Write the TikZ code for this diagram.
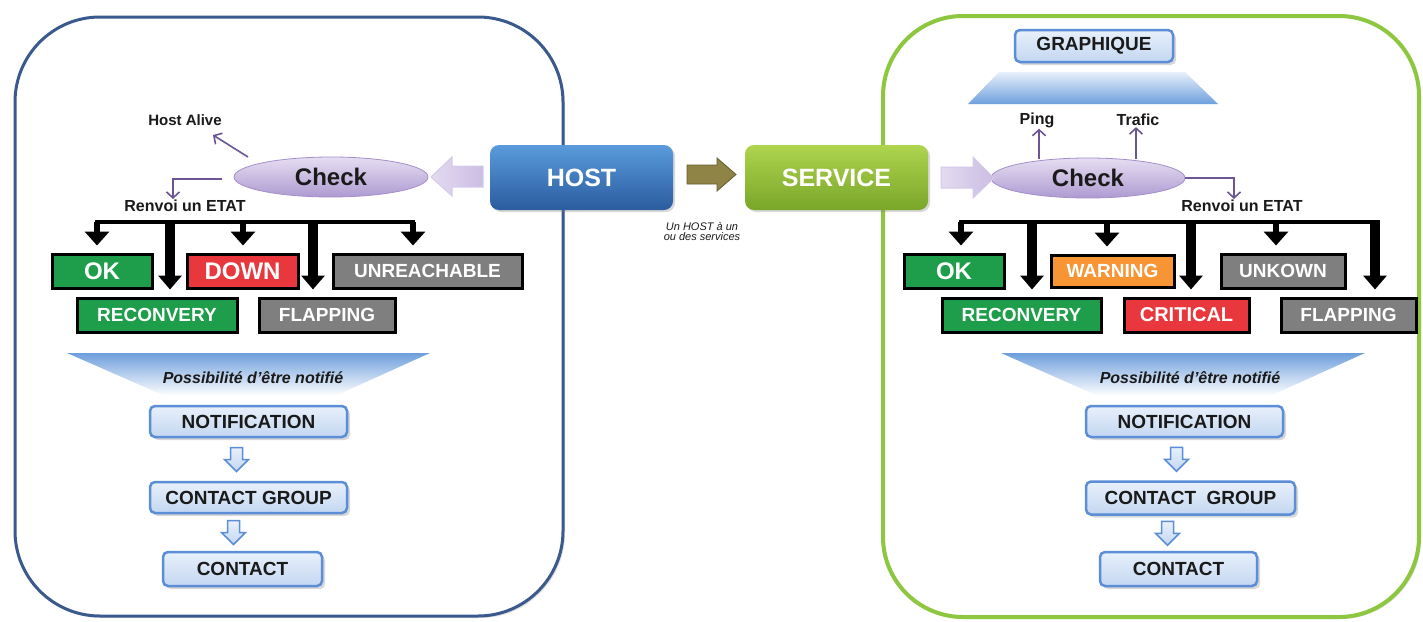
\documentclass[tikz,border=0pt]{standalone}
\usepackage{fontspec}
\setmainfont{Liberation Sans}
\usetikzlibrary{arrows.meta,shapes.geometric,shadows,calc}
\newcommand\myfs[1]{\fontsize{#1}{#1}\selectfont}
\definecolor{pblue}{HTML}{3A5A8E}
\definecolor{pgreen}{HTML}{8DC63F}
\definecolor{hostTop}{HTML}{5A9BDC}
\definecolor{hostBot}{HTML}{2A5C9F}
\definecolor{servTop}{HTML}{AFD44E}
\definecolor{servBot}{HTML}{79A629}
\definecolor{chkTop}{HTML}{E6DEF2}
\definecolor{chkBot}{HTML}{AE9AD1}
\definecolor{chkEdge}{HTML}{A48FCB}
\definecolor{okG}{HTML}{1E9E4A}
\definecolor{downR}{HTML}{E8383D}
\definecolor{grayS}{HTML}{7F7F7F}
\definecolor{warnO}{HTML}{F79433}
\definecolor{lbEdge}{HTML}{5B8ED6}
\definecolor{lbTop}{HTML}{E8F0FB}
\definecolor{lbBot}{HTML}{C3D7F1}
\definecolor{txt}{HTML}{1A1A1A}
\definecolor{purpc}{HTML}{6B5595}
\definecolor{oliveA}{HTML}{8F8445}
\definecolor{lavL}{HTML}{E3DBF0}
\definecolor{lavD}{HTML}{CBBDE3}
\definecolor{funnelB}{HTML}{6E9FDC}
\tikzset{
 panelL/.style={draw=pblue, line width=3, fill=white, rounded corners=85,
   drop shadow={shadow xshift=2pt, shadow yshift=-2pt, opacity=0.25}},
 panelR/.style={draw=pgreen, line width=4, fill=white, rounded corners=80,
   drop shadow={shadow xshift=2pt, shadow yshift=-2pt, opacity=0.25}},
 bigbox/.style={rounded corners=9, minimum width=183, minimum height=65, inner sep=0,
   text=white, font=\myfs{25}\bfseries,
   drop shadow={shadow xshift=2pt, shadow yshift=-2pt, opacity=0.3}},
 hostbox/.style={bigbox, top color=hostTop, bottom color=hostBot},
 servbox/.style={bigbox, top color=servTop, bottom color=servBot},
 chk/.style={ellipse, minimum width=194, minimum height=40, inner sep=0,
   top color=chkTop, bottom color=chkBot, draw=chkEdge, line width=0.8,
   font=\myfs{24}\bfseries, text=txt},
 stbox/.style={draw=black, line width=3, minimum height=34, inner sep=0,
   text=white, font=\myfs{19}\bfseries},
 lbox/.style={draw=lbEdge, line width=2.5, rounded corners=5, top color=lbTop,
   bottom color=lbBot, minimum height=31, inner sep=0, font=\myfs{19}\bfseries, text=txt,
   drop shadow={shadow xshift=3pt, shadow yshift=-3pt, opacity=0.3}},
 lbl/.style={font=\myfs{15}\bfseries, text=txt, inner sep=1},
 parr/.style={draw=purpc, line width=1.6, -{Straight Barb[length=6pt,width=13pt]}},
 brk/.style={line width=4},
 sarr/.style={line width=6, -{Triangle[width=24pt,length=14pt]}},
 larr/.style={line width=10, -{Triangle[width=23pt,length=14pt]}},
 lav/.style={left color=lavL, right color=lavD, draw=lavD!80!white, line width=1},
 dnarr/.pic={\draw[draw=lbEdge, line width=1.5, top color=lbTop, bottom color=lbBot]
   (-6,-12) -- (6,-12) -- (6,0) -- (12,0) -- (0,12) -- (-12,0) -- (-6,0) -- cycle;},
}
\begin{document}
\begin{tikzpicture}[x=1pt,y=-1pt]
\useasboundingbox[fill=white] (0,0) rectangle (1423,621);

% panels
\path[panelL] (15,17) rectangle (563,616);
\path[panelR] (883,16) rectangle (1419,617);

% central boxes
\node[hostbox] (host) at (581.5,177.5) {HOST};
\node[servbox] (serv) at (836.5,177.5) {SERVICE};
\draw[fill=oliveA, draw=oliveA!70!black, line width=0.8]
  (687,165) -- (717,165) -- (717,158) -- (736,174.5) -- (717,191) -- (717,184) -- (687,184) -- cycle;
\node[font=\myfs{11}\itshape, align=center, text=txt, inner sep=0] (info) at (702,232)
  {Un HOST à un\\[-1pt]ou des services};

% ================= LEFT =================
\node[chk] (chkL) at (331,177) {Check};
\draw[lav] (483,166) -- (452,166) -- (452,157) -- (431,177) -- (452,196) -- (452,187) -- (483,187) -- cycle;
\node[lbl] (ha) at (185,120) {Host Alive};
\coordinate (haS) at (248,157);
\coordinate (haTip) at (213,135);
\draw[parr] (haS) -- (haTip);
\node[lbl, font=\myfs{16}\bfseries] (rvL) at (185,206) {Renvoi un ETAT};
\coordinate (rvLs) at (222,179);
\coordinate (rvLe) at (173,199);
\draw[parr] (rvLs) -| (rvLe);

\node[stbox, fill=okG, minimum width=100, font=\myfs{24}\bfseries] (okL) at (102,271) {OK};
\node[stbox, fill=downR, minimum width=111, font=\myfs{24}\bfseries] (downL) at (242.5,271) {DOWN};
\node[stbox, fill=grayS, minimum width=189] (unrL) at (427.5,271) {UNREACHABLE};
\node[stbox, fill=okG, minimum width=160] (recL) at (157,315) {RECONVERY};
\node[stbox, fill=grayS, minimum width=136] (flapL) at (327,315) {FLAPPING};

\coordinate (bL1) at (97,222);
\coordinate (bL2) at (170,222);
\coordinate (bL3) at (243,222);
\coordinate (bL4) at (313,222);
\coordinate (bL5) at (413,222);
\draw[brk] ([xshift=-2]bL1) -- ([xshift=2]bL5);
\draw[sarr] (bL1) -- ($(bL1 |- okL.north)+(0,-7)$);
\draw[sarr] (bL3) -- ($(bL3 |- downL.north)+(0,-7)$);
\draw[sarr] (bL5) -- ($(bL5 |- unrL.north)+(0,-7)$);
\draw[larr] (bL2) -- ($(bL2 |- recL.north)+(0,-7)$);
\draw[larr] (bL4) -- ($(bL4 |- flapL.north)+(0,-7)$);

\path[top color=funnelB, bottom color=white] (67,353) -- (430,353) -- (335,396) -- (165,396) -- cycle;
\node[font=\myfs{16}\bfseries\itshape, text=txt] (posL) at (253,378) {Possibilité d'être notifié};

\node[lbox, minimum width=197] (notL) at (248.5,421.5) {NOTIFICATION};
\node[lbox, minimum width=197] (cgL) at (248.5,497.5) {CONTACT GROUP};
\node[lbox, minimum width=159, minimum height=34] (ctL) at (242.5,569) {CONTACT};
\pic at ($(notL.south)!0.5!(cgL.north)+(-12,0)$) {dnarr};
\pic at ($(cgL.south)!0.5!(ctL.north)+(-12,0)$) {dnarr};

% ================= RIGHT =================
\node[lbox, minimum width=158, minimum height=32] (graph) at (1094,46) {GRAPHIQUE};
\path[top color=lbTop, bottom color=funnelB] (999,72) -- (1185,72) -- (1218,104) -- (968,104) -- cycle;

\node[chk] (chkR) at (1088,178) {Check};
\draw[lav] (941,167) -- (973,167) -- (973,157) -- (994,178) -- (973,198) -- (973,188) -- (941,188) -- cycle;
\node[lbl, font=\myfs{16}\bfseries] (ping) at (1037,120) {Ping};
\node[lbl, font=\myfs{16}\bfseries] (traf) at (1138,120) {Trafic};
\coordinate (pgS) at (1039,159);
\coordinate (trS) at (1136,159);
\draw[parr] (pgS) -- (pgS |- ping.south);
\draw[parr] (trS) -- (trS |- traf.south);
\node[lbl, font=\myfs{16}\bfseries] (rvR) at (1242,206) {Renvoi un ETAT};
\coordinate (rvRe) at (1234,199);
\draw[parr] (chkR.east) -| (rvRe);

\node[stbox, fill=okG, minimum width=100, font=\myfs{24}\bfseries] (okR) at (954,271) {OK};
\node[stbox, fill=warnO, minimum width=123, minimum height=32] (warnR) at (1112.5,271) {WARNING};
\node[stbox, fill=grayS, minimum width=124] (unkR) at (1283,271) {UNKOWN};
\node[stbox, fill=okG, minimum width=159] (recR) at (1021.5,315) {RECONVERY};
\node[stbox, fill=downR, minimum width=125, font=\myfs{20}\bfseries] (critR) at (1186.5,315) {CRITICAL};
\node[stbox, fill=grayS, minimum width=135] (flapR) at (1348.5,315) {FLAPPING};

\coordinate (bR1) at (961,222);
\coordinate (bR2) at (1032,222);
\coordinate (bR3) at (1107,222);
\coordinate (bR4) at (1191,222);
\coordinate (bR5) at (1276,222);
\coordinate (bR6) at (1375,222);
\draw[brk] ([xshift=-2]bR1) -- ([xshift=5]bR6);
\draw[sarr] (bR1) -- ($(bR1 |- okR.north)+(0,-7)$);
\draw[sarr] (bR3) -- ($(bR3 |- warnR.north)+(0,-7)$);
\draw[sarr] (bR5) -- ($(bR5 |- unkR.north)+(0,-7)$);
\draw[larr] (bR2) -- ($(bR2 |- recR.north)+(0,-7)$);
\draw[larr] (bR4) -- ($(bR4 |- critR.north)+(0,-7)$);
\draw[larr] (bR6) -- ($(bR6 |- flapR.north)+(0,-7)$);

\path[top color=funnelB, bottom color=white] (1001,353) -- (1365,353) -- (1270,396) -- (1098,396) -- cycle;
\node[font=\myfs{16}\bfseries\itshape, text=txt] (posR) at (1190,378) {Possibilité d'être notifié};

\node[lbox, minimum width=197] (notR) at (1184.5,421.5) {NOTIFICATION};
\node[lbox, minimum width=209, minimum height=33] (cgR) at (1190.5,498) {CONTACT\ \ GROUP};
\node[lbox, minimum width=157, minimum height=34] (ctR) at (1178.5,569) {CONTACT};
\pic at ($(notR.south)!0.5!(cgR.north)+(-11,0)$) {dnarr};
\pic at ($(cgR.south)!0.5!(ctR.north)+(-17,0)$) {dnarr};
\end{tikzpicture}
\end{document}
